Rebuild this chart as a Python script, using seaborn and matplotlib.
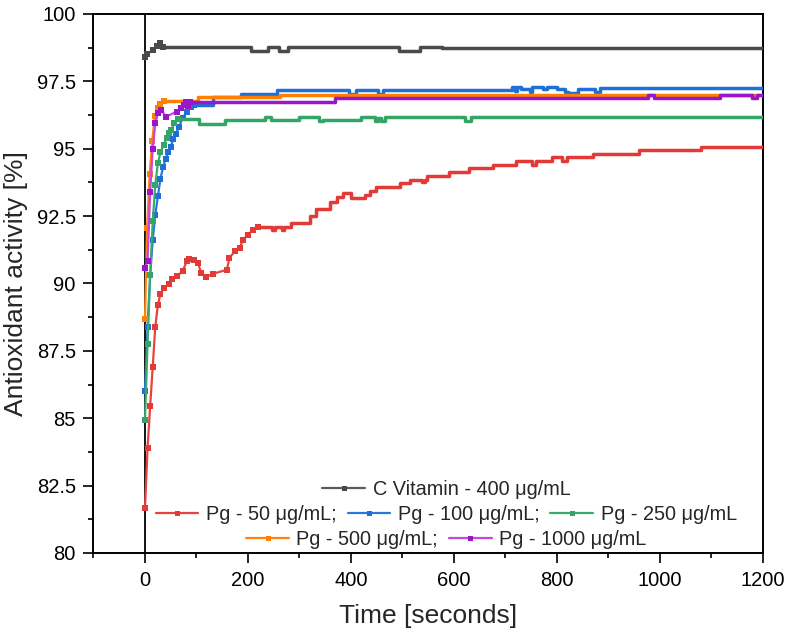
import numpy as np
import pandas as pd
import matplotlib
matplotlib.use("Agg")
import matplotlib.pyplot as plt
import seaborn as sns
from matplotlib.lines import Line2D
from matplotlib.ticker import MultipleLocator, FuncFormatter

sns.set_style("ticks")
plt.rcParams["font.family"] = ["Liberation Sans", "DejaVu Sans"]

# ---------------- data ----------------
series_labels = ["C Vitamin - 400 μg/mL", "Pg - 50 μg/mL;", "Pg - 100 μg/mL;",
                 "Pg - 250 μg/mL", "Pg - 500 μg/mL;", "Pg - 1000 μg/mL"]

vitc_t = [0, 4, 15, 24, 29, 35, 206, 239, 261, 277, 493, 534, 577, 1200]
vitc_v = [98.39, 98.5, 98.67, 98.81, 98.93, 98.78, 98.64, 98.78, 98.64, 98.78,
          98.64, 98.78, 98.75, 98.75]

pg50_t = [0, 5, 10, 15, 20, 25, 30, 37, 47, 53, 63, 73, 81, 86, 96, 103, 109,
          119, 132, 159, 164, 174, 184, 190, 200, 210, 219, 247, 252, 266, 270,
          284, 320, 333, 359, 372, 385, 401, 427, 436, 449, 495, 514, 538, 544,
          547, 590, 630, 675, 720, 752, 759, 791, 809, 819, 869, 960, 1080, 1200]
pg50_v = [81.67, 83.9, 85.44, 86.9, 88.4, 89.2, 89.62, 89.83, 89.99, 90.16,
          90.29, 90.45, 90.82, 90.92, 90.88, 90.76, 90.39, 90.24, 90.36, 90.51,
          90.94, 91.19, 91.31, 91.62, 91.81, 91.99, 92.11, 91.99, 92.11, 91.99,
          92.11, 92.24, 92.51, 92.77, 93.04, 93.19, 93.35, 93.17, 93.29, 93.44,
          93.57, 93.72, 93.84, 93.75, 93.84, 94.0, 94.15, 94.28, 94.4, 94.56,
          94.4, 94.56, 94.69, 94.53, 94.69, 94.8, 94.96, 95.06, 95.06]

pg100_t = [0, 5, 10, 15, 20, 25, 30, 35, 40, 45, 50, 55, 60, 66, 73, 81, 90,
           96, 132, 186, 257, 396, 410, 452, 463, 712, 718, 722, 731, 747, 751,
           773, 780, 800, 815, 822, 841, 874, 884, 1200]
pg100_v = [86.0, 88.4, 90.3, 91.6, 92.55, 93.23, 93.88, 94.31, 94.62, 94.86,
           95.08, 95.35, 95.55, 95.82, 96.13, 96.38, 96.54, 96.62, 96.9, 97.03,
           97.17, 97.02, 97.17, 97.02, 97.17, 97.3, 97.14, 97.3, 97.22, 97.12,
           97.28, 97.2, 97.3, 97.22, 97.12, 97.06, 97.22, 97.12, 97.27, 97.27]

pg250_t = [0, 5, 10, 15, 20, 25, 30, 36, 42, 47, 51, 57, 64, 105, 155, 233,
           244, 300, 338, 345, 420, 446, 453, 458, 466, 622, 633, 1200]
pg250_v = [84.95, 87.76, 90.3, 92.3, 93.66, 94.46, 94.86, 95.14, 95.4, 95.58,
           95.7, 95.95, 96.1, 95.92, 96.05, 96.18, 96.05, 96.18, 96.03, 96.07,
           96.18, 96.03, 96.15, 96.03, 96.17, 96.03, 96.17, 96.17]

pg500_t = [0, 4, 9, 14, 19, 25, 30, 36, 103, 262, 1200]
pg500_v = [88.68, 92.05, 94.05, 95.27, 96.2, 96.5, 96.65, 96.77, 96.9, 97.01,
           97.01]

pg1000_t = [0, 5, 10, 15, 20, 25, 31, 41, 62, 70, 76, 80, 84, 88, 368, 977,
            988, 1117, 1178, 1188, 1200]
pg1000_v = [90.57, 90.84, 93.39, 94.99, 95.95, 96.32, 96.45, 96.19, 96.38,
            96.5, 96.62, 96.75, 96.6, 96.75, 96.87, 96.99, 96.87, 96.99, 96.87,
            96.99, 96.99]

x_ticks = [0, 200, 400, 600, 800, 1000, 1200]
y_ticks = [80, 82.5, 85, 87.5, 90, 92.5, 95, 97.5, 100]

# ---------------- styling ----------------
line_colors = ["#5b5b5b", "#e8423f", "#2a77da", "#3aa96c", "#ff8410", "#c845df"]
mark_colors = ["#4a4a4a", "#e23a37", "#1f6fd6", "#34a566", "#ff7f00", "#9a16c8"]
# time up to which each trace is drawn as joined points (then as steps)
smooth_until = [35, 219, 96, 64, 36, 88]

all_t = [vitc_t, pg50_t, pg100_t, pg250_t, pg500_t, pg1000_t]
all_v = [vitc_v, pg50_v, pg100_v, pg250_v, pg500_v, pg1000_v]

frames = []
for lab, t, v in zip(series_labels, all_t, all_v):
    frames.append(pd.DataFrame({"t": t, "v": v, "series": lab}))
df = pd.concat(frames, ignore_index=True)

fig = plt.figure(figsize=(7.89, 6.37), dpi=100)
ax = fig.add_axes([0.1185, 0.1319, 0.8485, 0.8462])

ax.axvline(0, color="black", lw=1.3, zorder=1.5)

for i, lab in enumerate(series_labels):
    sub = df[df["series"] == lab]
    early = sub[sub["t"] <= smooth_until[i]]
    late = sub[sub["t"] >= smooth_until[i]]
    sns.lineplot(data=late, x="t", y="v", ax=ax, color=mark_colors[i],
                 estimator=None, sort=False, drawstyle="steps-post",
                 linewidth=2.5, legend=False, zorder=3 + i)
    sns.lineplot(data=early, x="t", y="v", ax=ax, color=line_colors[i],
                 estimator=None, sort=False, linewidth=1.6, marker="s",
                 markersize=3.8, markerfacecolor=mark_colors[i],
                 markeredgewidth=0, legend=False, zorder=3 + i)

ax.set_xlim(-100, 1200)
ax.set_ylim(80, 100)
ax.set_xticks(x_ticks)
ax.set_yticks(y_ticks)
ax.xaxis.set_minor_locator(MultipleLocator(100))
ax.yaxis.set_minor_locator(MultipleLocator(1.25))
ax.yaxis.set_major_formatter(FuncFormatter(lambda val, pos: "%g" % val))
ax.tick_params(axis="both", which="major", length=7.2, width=1.2,
               labelsize=14.5, pad=5.5, direction="out", colors="black")
ax.tick_params(axis="both", which="minor", length=3.6, width=1.2,
               direction="out", colors="black")
for sp in ax.spines.values():
    sp.set_linewidth(1.4)
    sp.set_color("black")
    sp.set_visible(True)

ax.set_xlabel("Time [seconds]", fontsize=19, labelpad=10)
ax.set_ylabel("Antioxidant activity [%]", fontsize=19)
ax.yaxis.set_label_coords(-0.098, 0.5)
ax.grid(False)


def handle(i):
    return Line2D([0], [0], color=line_colors[i], lw=1.6, marker="s",
                  markersize=3.6, markerfacecolor=mark_colors[i],
                  markeredgewidth=0)


rows = [([0], 0.118), ([1, 2, 3], 0.071), ([4, 5], 0.025)]
legs = []
for idx, yy in rows:
    leg = ax.legend([handle(i) for i in idx], [series_labels[i] for i in idx],
                    loc="center", bbox_to_anchor=(0.527, yy), ncol=len(idx),
                    frameon=False, fontsize=14.3, handlelength=2.15,
                    handletextpad=0.38, columnspacing=0.55, borderpad=0,
                    borderaxespad=0)
    legs.append(leg)
for leg in legs[:-1]:
    ax.add_artist(leg)

fig.savefig("out.png", dpi=100)
